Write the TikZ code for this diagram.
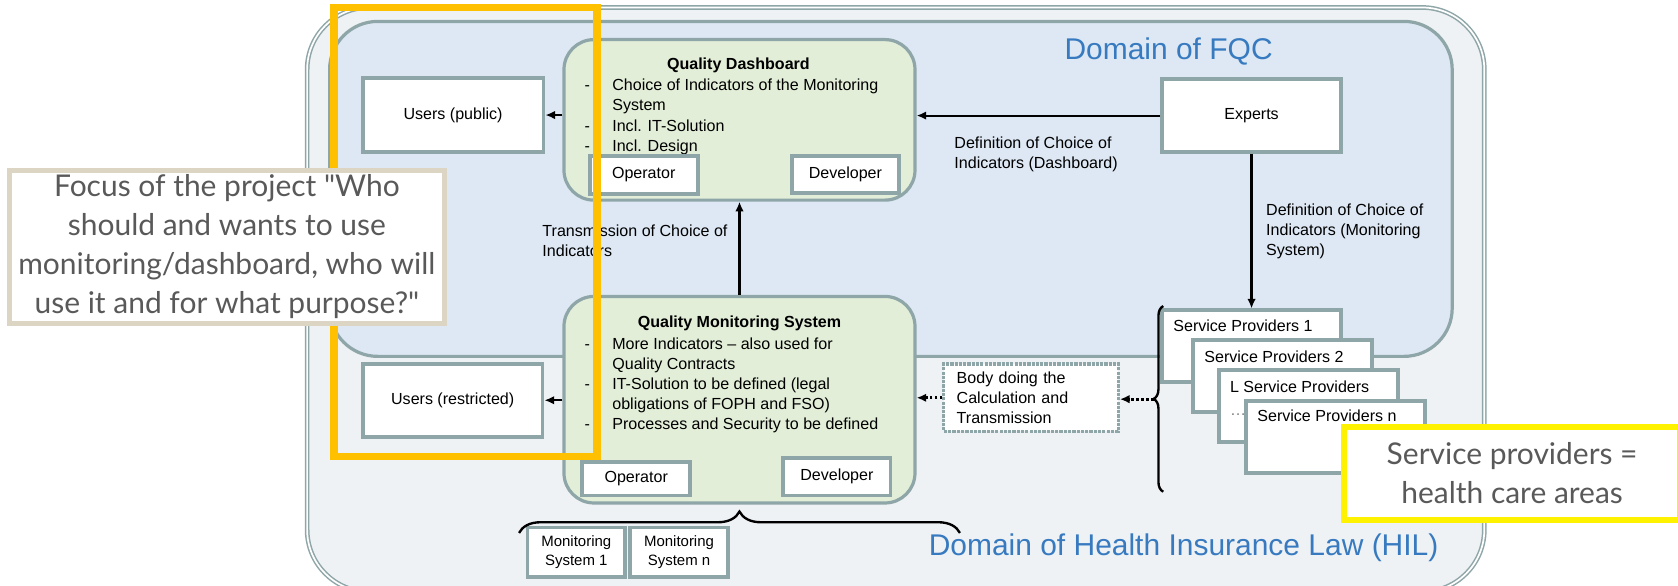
\documentclass[tikz,border=0pt]{standalone}
\usepackage{fontspec}
\setmainfont{Liberation Sans}
\newfontfamily\calloutfont{Lato}
\usepackage{tikz}
\usetikzlibrary{arrows.meta, decorations.pathreplacing}

\definecolor{boxline}{RGB}{143,166,168}
\definecolor{fqcblue}{RGB}{221,232,244}
\definecolor{hilgray}{RGB}{239,242,245}
\definecolor{qgreen}{RGB}{226,238,216}
\definecolor{domblue}{RGB}{55,122,192}
\definecolor{focusorange}{RGB}{255,192,0}
\definecolor{tanline}{RGB}{221,213,195}
\definecolor{calloutgray}{RGB}{89,89,89}

\tikzset{
  plainbox/.style={draw=boxline, line width=3.5pt, fill=white, inner sep=0pt, font=\fontsize{15}{19}\selectfont},
  qualitybox/.style={draw=boxline, line width=3pt, fill=qgreen, rounded corners=28pt},
  bodybox/.style={draw=boxline, line width=3pt, densely dotted, fill=white, inner xsep=12pt, inner ysep=0pt, text width=139pt, minimum height=63pt, align=left, font=\fontsize{15}{18.7}\selectfont},
  txt/.style={font=\fontsize{15}{19}\selectfont, inner sep=0pt, align=left},
  domaintxt/.style={font=\fontsize{28}{32}\selectfont, text=domblue},
  callout/.style={fill=white, text=calloutgray, align=center, inner sep=0pt, font=\calloutfont\fontsize{28}{36.5}\selectfont},
  arr/.style={line width=2pt, -{Latex[length=9pt, width=8pt]}},
  dotarr/.style={line width=2.6pt, dotted, -{Latex[length=9pt, width=8pt]}}
}

\begin{document}
\begin{tikzpicture}[x=1pt, y=-1pt]
\useasboundingbox (0,0) rectangle (1568,547);
\clip (0,0) rectangle (1568,547);

% the two domains
\draw[boxline, line width=1.4pt, double=white, double distance=1.6pt, fill=hilgray, rounded corners=58pt] (287,7) rectangle (1387,553);
\draw[boxline, line width=3pt, fill=fqcblue, rounded corners=45pt] (308,20) rectangle (1357,333);
\node[domaintxt] (fqc) at (1092,48) {Domain of FQC};
\node[domaintxt] (hil) at (1106,512) {Domain of Health Insurance Law (HIL)};

% dashboard
\node[qualitybox, minimum width=328pt, minimum height=150pt] (qd) at (691,112) {};
\node[txt, font=\bfseries\fontsize{15}{19}\selectfont] (qdtitle) at (690,61) {Quality Dashboard};
\node[txt, anchor=north west] (qdlist) at (546,71) {\begin{tabular}{@{}p{26pt}@{}l@{}}
- & Choice of Indicators of the Monitoring\\
  & System\\
- & Incl. IT-Solution\\
- & Incl. Design
\end{tabular}};
\node[plainbox, minimum width=101pt, minimum height=35pt] (qdop) at (601.5,163.5) {Operator};
\node[plainbox, minimum width=100pt, minimum height=34pt] (qddev) at (790,163) {Developer};

% monitoring system
\node[qualitybox, minimum width=328pt, minimum height=193pt] (qms) at (691,373.5) {};
\node[txt, font=\bfseries\fontsize{15}{19}\selectfont] (qmstitle) at (691,302) {Quality Monitoring System};
\node[txt, anchor=north west] (qmslist) at (546,313) {\fontsize{15}{18.8}\selectfont\begin{tabular}{@{}p{26pt}@{}l@{}}
- & More Indicators -- also used for\\
  & Quality Contracts\\
- & IT-Solution to be defined (legal\\
  & obligations of FOPH and FSO)\\
- & Processes and Security to be defined
\end{tabular}};
\node[plainbox, minimum width=101pt, minimum height=31pt] (qmsop) at (594.5,447.5) {Operator};
\node[plainbox, minimum width=100pt, minimum height=35pt] (qmsdev) at (782,445.5) {Developer};

% users and experts
\node[plainbox, minimum width=169pt, minimum height=69pt] (userspub) at (423.4,107.5) {Users (public)};
\node[plainbox, minimum width=168pt, minimum height=68pt] (usersres) at (423,374) {Users (restricted)};
\node[plainbox, minimum width=167pt, minimum height=68pt] (experts) at (1169.5,108) {Experts};
\node[bodybox] (body) at (963.5,371.7) {Body doing the\\Calculation and\\Transmission};

% service providers, stacked
\node[plainbox, minimum width=167pt, minimum height=67pt, label={[txt, anchor=north west, xshift=12pt, yshift=-10pt]north west:Service Providers 1}] (sp1) at (1169.5,323.5) {};
\node[plainbox, minimum width=167pt, minimum height=67pt, label={[txt, anchor=north west, xshift=12pt, yshift=-11pt]north west:Service Providers 2}] (sp2) at (1198.5,351.5) {};
\node[plainbox, minimum width=167pt, minimum height=67pt, label={[txt, anchor=north west, xshift=12pt, yshift=-11pt]north west:L Service Providers\\[3pt]\textcolor{gray}{\ldots}}] (spl) at (1222.5,379.5) {};
\node[plainbox, minimum width=167pt, minimum height=67pt, label={[txt, anchor=north west, xshift=12pt, yshift=-10pt]north west:Service Providers n}] (spn) at (1248,408.5) {};

% monitoring systems
\node[plainbox, minimum width=91pt, minimum height=46pt, align=center, font=\fontsize{14}{17}\selectfont] (ms1) at (538.5,516) {Monitoring\\System 1};
\node[plainbox, minimum width=91pt, minimum height=46pt, align=center, font=\fontsize{14}{17}\selectfont] (msn) at (634.5,516) {Monitoring\\System n};

% braces
\draw[decorate, decoration={brace, amplitude=20pt}, line width=2.2pt] (485,498) -- (897,498);
\draw[decorate, decoration={brace, amplitude=9pt}, line width=2.2pt] (1087,459.5) -- (1087,286);
\coordinate (spbrace) at (1078,373);

% connectors
\draw[arr] (qd.west |- userspub.east) -- (userspub.east);
\draw[arr] (experts.west) -- (experts.west -| qd.east);
\draw[arr] (experts.south) -- (sp1.north);
\draw[arr] (qms.north) -- (qd.south);
\draw[arr] (qms.west |- usersres.east) -- (usersres.east);
\draw[dotarr] (body.west) -- (body.west -| qms.east);
\draw[dotarr] (spbrace) -- (spbrace -| body.east);

\node[txt, anchor=north west] (deflbl1) at (891.7,127.7) {Definition of Choice of\\Indicators (Dashboard)};
\node[txt, anchor=north west] (deflbl2) at (1183,190) {Definition of Choice of\\Indicators (Monitoring\\System)};
\node[txt, anchor=north west] (translbl) at (506.7,209.7) {Transmission of Choice of\\Indicators};

% focus frame and notes
\draw[focusorange, line width=7pt] (312,7) rectangle (558,426.5);
\node[callout, draw=tanline, line width=4.5pt, minimum width=406pt, minimum height=143pt] (focus) at (212,230.5) {Focus of the project "Who\\should and wants to use\\monitoring/dashboard, who will\\use it and for what purpose?"};
\node[callout, draw=yellow, line width=5.5pt, minimum width=314pt, minimum height=87pt] (spnote) at (1413,442.5) {Service providers =\\health care areas};
\end{tikzpicture}
\end{document}
